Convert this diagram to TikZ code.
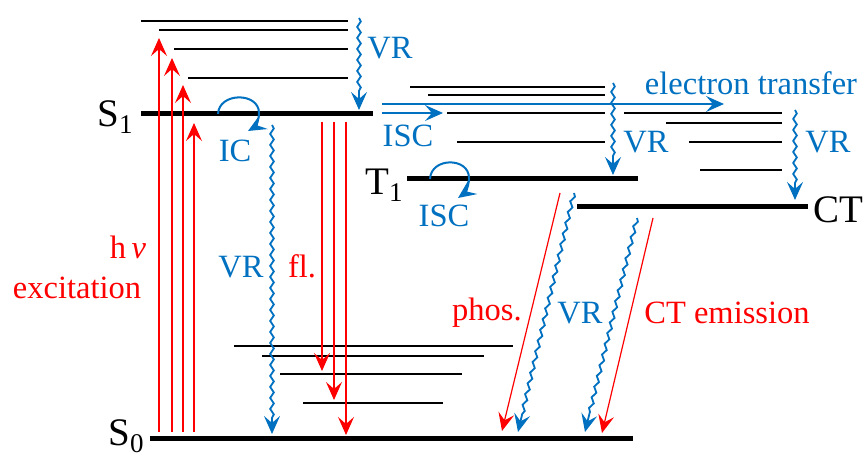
\documentclass[tikz,border=0pt]{standalone}
\usepackage{fontspec}
\setmainfont{Liberation Serif}
\usetikzlibrary{arrows.meta,decorations.pathmorphing}
\definecolor{jblue}{RGB}{0,112,192}
\definecolor{jred}{RGB}{255,0,0}
\tikzset{
  vib/.style={line width=1.2pt},
  lvl/.style={line width=2.5pt},
  tip/.style={-{Stealth[length=9pt,width=8pt,inset=3.5pt]}},
  redarr/.style={tip,jred,line width=0.6pt},
  bluearr/.style={tip,jblue,line width=0.8pt},
  wavy/.style={tip,jblue,line width=0.9pt,decorate,
    decoration={snake,amplitude=0.9pt,segment length=5.5pt,post length=8pt}},
  lab/.style={font=\fontsize{16.25}{18}\selectfont,inner sep=0pt},
  big/.style={font=\fontsize{19.5}{22}\selectfont,inner sep=0pt,anchor=base west},
}
\newcommand{\subnum}[1]{\raisebox{-3.5pt}{\fontsize{13.5}{15}\selectfont #1}}
\begin{document}
\begin{tikzpicture}[x=0.5pt,y=-0.5pt]
\useasboundingbox (0,0) rectangle (868,459);
% ---- S1 manifold
\draw[vib] (141,21) -- (348,21);
\draw[vib] (159,30) -- (348,30);
\draw[vib] (174,49) -- (348,49);
\draw[vib] (188,78) -- (348,78);
\draw[lvl] (141,114) coordinate (s1l) -- (373,114) coordinate (s1r);
% ---- T manifold
\draw[vib] (410,87) -- (605,87);
\draw[vib] (428,95) -- (605,95);
\draw[vib] (447,113) -- (605,113);
\draw[vib] (457,142) -- (605,142);
\draw[lvl] (407,179) -- (638,179);
% ---- CT manifold
\draw[vib] (624,113) -- (782,113);
\draw[vib] (666,123) -- (782,123);
\draw[vib] (689,142) -- (782,142);
\draw[vib] (700,170) -- (782,170);
\draw[lvl] (577,207) -- (808,207);
% ---- S0 manifold
\draw[vib] (234,346) -- (513,346);
\draw[vib] (262,356) -- (484,356);
\draw[vib] (280,374) -- (462,374);
\draw[vib] (303,403) -- (443,403);
\draw[lvl] (150,439) -- (633,439);
% ---- state labels
\node[big] (S1) at (97,127) {S\subnum{1}};
\node[big] (T1) at (365,195) {T\subnum{1}};
\node[big] (S0) at (108,446) {S\subnum{0}};
\node[big] (CT) at (813,223) {CT};
% ---- excitation arrows
\coordinate (e1a) at (159,432); \coordinate (e1b) at (159,38);
\coordinate (e2a) at (172,432); \coordinate (e2b) at (172,58);
\coordinate (e3a) at (183,432); \coordinate (e3b) at (183,85);
\coordinate (e4a) at (194,432); \coordinate (e4b) at (194,123);
\draw[redarr] (e1a) -- (e1b);
\draw[redarr] (e2a) -- (e2b);
\draw[redarr] (e3a) -- (e3b);
\draw[redarr] (e4a) -- (e4b);
% ---- fluorescence arrows
\coordinate (f1a) at (322,122); \coordinate (f1b) at (322,371);
\coordinate (f2a) at (334,122); \coordinate (f2b) at (334,400);
\coordinate (f3a) at (346,122); \coordinate (f3b) at (346,435);
\draw[redarr] (f1a) -- (f1b);
\draw[redarr] (f2a) -- (f2b);
\draw[redarr] (f3a) -- (f3b);
% ---- phosphorescence and CT emission
\coordinate (pa) at (560,193); \coordinate (pb) at (502,431);
\coordinate (ca) at (653,218); \coordinate (cb) at (602,433);
\draw[redarr] (pa) -- (pb);
\draw[redarr] (ca) -- (cb);
% ---- vibrational relaxation (wavy)
\coordinate (v1a) at (359,18);  \coordinate (v1b) at (359,110);
\coordinate (v2a) at (613,83);  \coordinate (v2b) at (613,175);
\coordinate (v3a) at (795,110); \coordinate (v3b) at (795,200);
\coordinate (v4a) at (272,125); \coordinate (v4b) at (272,434);
\coordinate (v5a) at (574,193); \coordinate (v5b) at (518,432);
\coordinate (v6a) at (637,218); \coordinate (v6b) at (585,432);
\draw[wavy] (v1a) -- (v1b);
\draw[wavy] (v2a) -- (v2b);
\draw[wavy] (v3a) -- (v3b);
\draw[wavy] (v4a) -- (v4b);
\draw[wavy] (v5a) -- (v5b);
\draw[wavy] (v6a) -- (v6b);
% ---- electron transfer and ISC
\coordinate (eta) at (382,104); \coordinate (etb) at (724,104);
\coordinate (isa) at (382,113); \coordinate (isb) at (443,113);
\draw[bluearr] (eta) -- (etb);
\draw[bluearr] (isa) -- (isb);
% ---- IC loop and ISC loop
\draw[bluearr,line width=1pt] (218,114) .. controls (219,92) and (259,92) .. (259,113)
  .. controls (259,121) and (255,127) .. (248,131);
\draw[bluearr,line width=1pt] (430,179) .. controls (431,157) and (469,157) .. (469,178)
  .. controls (469,186) and (465,193) .. (458,198);
% ---- labels
\node[lab,jblue] (lVR1) at (390,48) {VR};
\node[lab,jblue] (lIC) at (235,151) {IC};
\node[lab,jblue] (lISC1) at (408,136) {ISC};
\node[lab,jblue] (lET) at (751,83) {electron transfer};
\node[lab,jblue] (lVR2) at (646,142) {VR};
\node[lab,jblue] (lVR3) at (828,142) {VR};
\node[lab,jblue] (lISC2) at (444,216) {ISC};
\node[lab,jblue] (lVR4) at (241,267) {VR};
\node[lab,jred] (lfl) at (302,266) {fl.};
\node[lab,jred] (lph) at (487,313) {phos.};
\node[lab,jblue] (lVR5) at (580,313) {VR};
\node[lab,jred] (lCT) at (727,313) {CT emission};
\node[lab,jred] (lhv) at (128,247) {h\,\textit{ν}};
\node[lab,jred] (lexc) at (77,288) {excitation};
\end{tikzpicture}
\end{document}
